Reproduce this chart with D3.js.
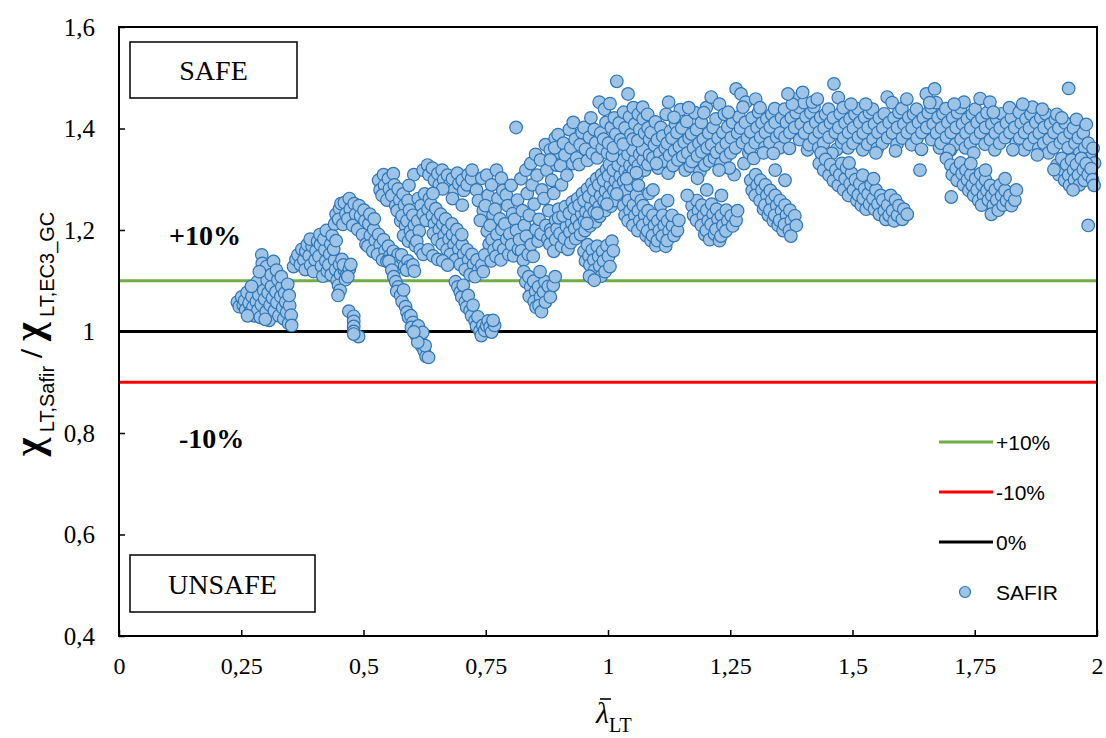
<!DOCTYPE html>
<html>
<head>
<meta charset="utf-8">
<script src="https://cdn.jsdelivr.net/npm/d3@7"></script>
<style>
  body { margin: 0; background: #ffffff; }
  svg { display: block; }
</style>
</head>
<body>
<svg id="chart" width="1106" height="738"></svg>
<script>
// ---- axis ticks ----
const xTicks = [0, 0.25, 0.5, 0.75, 1, 1.25, 1.5, 1.75, 2];
const yTicks = [0.4, 0.6, 0.8, 1.0, 1.2, 1.4, 1.6];

// ---- reference ratio lines ----
const limitNames = ["+10%", "-10%", "0%"];
const limitValues = [1.1, 0.9, 1.0];
const seriesName = "SAFIR";

// ---- SAFIR results: [lambda_LT, chi_Safir / chi_EC3_GC] ----
const safirLam025 = [
  [0.242,1.058],[0.246,1.049],[0.251,1.068],[0.254,1.052],[0.257,1.061],[0.262,1.077],[0.259,1.043],[0.266,1.056],
  [0.268,1.038],[0.272,1.069],[0.274,1.048],[0.277,1.031],[0.279,1.088],[0.281,1.059],[0.284,1.042],[0.286,1.072],
  [0.283,1.098],[0.289,1.028],[0.291,1.053],[0.292,1.151],[0.294,1.118],[0.296,1.081],[0.293,1.134],[0.298,1.064],
  [0.301,1.039],[0.303,1.101],[0.305,1.076],[0.302,1.128],[0.307,1.022],[0.309,1.052],[0.312,1.089],[0.314,1.066],
  [0.311,1.112],[0.316,1.138],[0.318,1.041],[0.321,1.078],[0.323,1.057],[0.325,1.102],[0.322,1.121],[0.327,1.031],
  [0.331,1.069],[0.333,1.088],[0.335,1.047],[0.332,1.108],[0.337,1.025],[0.339,1.076],[0.341,1.058],[0.343,1.038],
  [0.345,1.093],[0.347,1.016],[0.349,1.051],[0.352,1.032],[0.348,1.071],[0.353,1.012],[0.263,1.031],[0.271,1.089],
  [0.287,1.118],[0.299,1.024],
  [0.357,1.128],[0.362,1.142],[0.366,1.151],[0.371,1.132],[0.374,1.162],[0.378,1.141],[0.382,1.158],[0.385,1.171],
  [0.381,1.122],[0.389,1.149],[0.392,1.131],[0.395,1.168],[0.391,1.182],[0.401,1.141],[0.403,1.159],[0.398,1.118],
  [0.406,1.178],[0.409,1.148],[0.412,1.171],[0.414,1.129],[0.411,1.191],[0.417,1.109],[0.421,1.161],[0.423,1.139],
  [0.419,1.182],[0.426,1.119],[0.424,1.199],[0.431,1.152],[0.433,1.172],[0.429,1.131],[0.436,1.189],[0.434,1.112],
  [0.441,1.141],[0.443,1.122],[0.439,1.162],[0.446,1.101],[0.444,1.179],[0.451,1.132],[0.453,1.112],[0.449,1.091],
  [0.456,1.142],[0.461,1.121],[0.463,1.102],[0.459,1.131],[0.466,1.112],[0.471,1.123],[0.468,1.108],[0.474,1.132],
  [0.452,1.081],[0.448,1.071],
  [0.47,1.04],[0.48,1.03],[0.48,1.02],[0.48,1.01],[0.48,1.00],[0.49,0.99],[0.48,0.995]
];

const safirLam050 = [
  [0.441,1.212],[0.444,1.231],[0.451,1.242],[0.449,1.221],[0.454,1.252],[0.461,1.254],[0.464,1.232],[0.458,1.211],
  [0.471,1.262],[0.473,1.241],[0.468,1.222],[0.481,1.252],[0.484,1.231],[0.478,1.209],[0.491,1.248],[0.494,1.228],
  [0.488,1.201],[0.501,1.239],[0.503,1.218],[0.498,1.191],[0.505,1.172],[0.511,1.212],[0.514,1.189],[0.509,1.168],
  [0.513,1.231],[0.521,1.201],[0.524,1.179],[0.519,1.158],[0.522,1.222],[0.531,1.191],[0.534,1.171],[0.529,1.152],
  [0.541,1.181],[0.544,1.159],[0.539,1.141],[0.551,1.168],[0.554,1.149],[0.548,1.138],[0.561,1.158],[0.564,1.141],
  [0.558,1.129],[0.571,1.152],[0.574,1.138],[0.568,1.126],[0.581,1.142],[0.584,1.129],[0.578,1.151],[0.591,1.139],
  [0.594,1.128],[0.588,1.121],[0.601,1.131],[0.604,1.119],
  [0.552,1.138],[0.558,1.121],[0.562,1.108],[0.566,1.098],[0.571,1.088],[0.568,1.079],[0.576,1.071],[0.579,1.059],
  [0.582,1.082],[0.586,1.049],[0.589,1.038],[0.592,1.028],[0.597,1.031],[0.601,1.018],[0.598,1.008],[0.606,1.002],
  [0.609,0.991],[0.612,1.011],[0.616,0.981],[0.619,0.971],[0.614,0.992],[0.624,0.962],[0.628,0.951],[0.626,0.972],
  [0.633,0.949],[0.621,0.998],[0.611,0.979],[0.603,0.999],
  [0.531,1.298],[0.534,1.279],[0.541,1.309],[0.543,1.288],[0.538,1.268],[0.551,1.301],[0.553,1.281],[0.548,1.259],
  [0.561,1.311],[0.563,1.289],[0.558,1.268],[0.566,1.248],[0.571,1.281],[0.574,1.259],[0.569,1.238],[0.576,1.218],
  [0.581,1.271],[0.584,1.249],[0.579,1.228],[0.586,1.208],[0.582,1.189],[0.591,1.258],[0.594,1.239],[0.589,1.218],
  [0.596,1.198],[0.592,1.178],[0.601,1.229],[0.604,1.209],[0.599,1.188],[0.606,1.169],[0.611,1.218],[0.614,1.198],
  [0.609,1.178],[0.616,1.161],[0.603,1.309],[0.593,1.288]
];

const safirLam075 = [
  [0.622,1.318],[0.631,1.328],[0.634,1.309],[0.641,1.322],[0.645,1.298],[0.652,1.311],[0.655,1.289],[0.661,1.318],
  [0.664,1.299],[0.672,1.308],[0.675,1.288],[0.682,1.301],[0.686,1.279],[0.692,1.312],[0.695,1.291],[0.702,1.298],
  [0.705,1.278],[0.712,1.289],[0.714,1.309],[0.721,1.301],
  [0.612,1.262],[0.618,1.248],[0.622,1.231],[0.625,1.271],[0.632,1.241],[0.628,1.219],[0.635,1.262],[0.641,1.228],
  [0.645,1.212],[0.638,1.251],[0.643,1.193],[0.652,1.222],[0.655,1.201],[0.648,1.242],[0.651,1.181],[0.662,1.212],
  [0.665,1.189],[0.658,1.231],[0.661,1.172],[0.672,1.201],[0.675,1.182],[0.668,1.222],[0.671,1.161],[0.682,1.191],
  [0.685,1.171],[0.678,1.152],[0.681,1.212],[0.692,1.182],[0.695,1.162],[0.688,1.141],[0.691,1.201],[0.702,1.171],
  [0.705,1.152],[0.698,1.132],[0.701,1.191],[0.712,1.161],[0.715,1.141],[0.708,1.122],[0.722,1.152],[0.725,1.132],
  [0.718,1.112],[0.732,1.141],[0.735,1.121],[0.728,1.108],[0.742,1.131],[0.745,1.118],[0.622,1.152],[0.632,1.161],
  [0.642,1.149],[0.652,1.142],[0.662,1.139],[0.672,1.131],[0.662,1.281],[0.682,1.262],[0.702,1.249],[0.642,1.272],
  [0.688,1.098],[0.693,1.088],[0.698,1.078],[0.701,1.068],[0.704,1.091],[0.708,1.058],[0.711,1.048],[0.714,1.071],
  [0.718,1.041],[0.721,1.031],[0.724,1.052],[0.728,1.021],[0.731,1.011],[0.734,1.029],[0.738,1.001],[0.741,0.992],
  [0.744,1.012],[0.748,1.002],[0.752,1.011],[0.755,1.021],[0.759,1.009],[0.762,0.999],[0.768,1.012],[0.765,1.022],
  [0.722,1.318],[0.731,1.279],[0.735,1.258],[0.742,1.302],[0.745,1.238],[0.739,1.219],[0.752,1.308],[0.755,1.268],
  [0.749,1.248],[0.753,1.198],[0.757,1.172],[0.748,1.151],[0.762,1.289],[0.765,1.229],[0.759,1.209],[0.763,1.181],
  [0.767,1.161],[0.761,1.139],[0.772,1.318],[0.775,1.262],[0.769,1.241],[0.773,1.191],[0.777,1.169],[0.771,1.148],
  [0.782,1.302],[0.785,1.278],[0.779,1.222],[0.783,1.201],[0.787,1.162],[0.781,1.141],[0.792,1.269],[0.795,1.248],
  [0.789,1.212],[0.793,1.182],[0.797,1.152],[0.802,1.288],[0.805,1.232],[0.799,1.192],[0.803,1.171],[0.807,1.149],
  [0.812,1.402],[0.815,1.259],[0.809,1.221],[0.813,1.199],[0.817,1.162],[0.822,1.301],[0.825,1.238],[0.819,1.181],
  [0.823,1.159],[0.827,1.141],[0.832,1.318],[0.835,1.272],[0.829,1.209],[0.833,1.188],[0.837,1.152],[0.842,1.331],
  [0.845,1.289],[0.839,1.229],[0.843,1.171],[0.847,1.148],[0.852,1.349],[0.855,1.308],[0.849,1.251],[0.853,1.201],
  [0.857,1.178],[0.862,1.338],[0.865,1.279],[0.859,1.221],[0.863,1.192],[0.872,1.368],[0.875,1.318],[0.869,1.262],
  [0.873,1.209],[0.877,1.182],[0.882,1.358],[0.885,1.298],[0.879,1.238],[0.883,1.201],[0.892,1.381],[0.895,1.328],
  [0.889,1.272],[0.893,1.219],[0.902,1.352],[0.905,1.289],[0.899,1.241],[0.903,1.211],
  [0.828,1.118],[0.832,1.098],[0.838,1.108],[0.842,1.088],[0.839,1.069],[0.848,1.099],[0.852,1.079],[0.849,1.059],
  [0.853,1.048],[0.858,1.088],[0.862,1.068],[0.859,1.051],[0.864,1.039],[0.868,1.078],[0.872,1.058],[0.871,1.098],
  [0.878,1.089],[0.882,1.068],[0.888,1.091],[0.892,1.108],[0.861,1.118]
];

const safirLam100 = [
  [0.951,1.158],[0.954,1.139],[0.958,1.171],[0.961,1.149],[0.963,1.131],[0.968,1.161],[0.971,1.141],[0.973,1.121],
  [0.978,1.168],[0.981,1.148],[0.983,1.129],[0.986,1.109],[0.989,1.158],[0.991,1.139],[0.994,1.118],[0.998,1.169],
  [1.001,1.148],[1.004,1.128],[1.008,1.178],[1.011,1.159],[0.962,1.109],[0.972,1.101],
  [0.881,1.172],[0.884,1.194],[0.893,1.181],[0.896,1.203],[0.889,1.158],[0.902,1.193],[0.905,1.168],[0.899,1.224],
  [0.911,1.184],[0.915,1.207],[0.908,1.228],[0.913,1.246],[0.918,1.162],[0.922,1.196],[0.926,1.214],[0.921,1.233],
  [0.927,1.255],[0.924,1.175],[0.932,1.203],[0.936,1.221],[0.931,1.243],[0.938,1.262],[0.934,1.183],[0.942,1.209],
  [0.946,1.232],[0.941,1.249],[0.948,1.272],[0.944,1.191],[0.952,1.218],[0.955,1.236],[0.951,1.258],[0.958,1.281],
  [0.953,1.199],[0.962,1.228],[0.965,1.247],[0.961,1.266],[0.967,1.291],[0.963,1.208],[0.972,1.236],[0.975,1.258],
  [0.971,1.279],[0.977,1.301],[0.974,1.216],[0.982,1.246],[0.985,1.268],[0.981,1.289],[0.987,1.309],[0.983,1.227],
  [0.992,1.257],[0.995,1.277],[0.991,1.298],[0.994,1.238],[0.997,1.319],[1.002,1.266],[1.005,1.288],[1.001,1.307],
  [1.006,1.247],[1.003,1.329],[1.012,1.278],[1.015,1.297],[1.011,1.318],[1.014,1.258],[1.022,1.287],[1.025,1.306],
  [1.021,1.328],[1.026,1.268],[1.023,1.347],[1.032,1.296],[1.035,1.317],[1.031,1.338],[1.036,1.279],[1.042,1.308],
  [1.045,1.327],[1.041,1.349],[1.046,1.288],[1.052,1.317],[1.055,1.338],[1.051,1.358],[1.056,1.299],[1.062,1.327],
  [1.065,1.349],[1.061,1.309],[1.072,1.338],[1.075,1.318],[1.071,1.359],[1.082,1.329],[1.085,1.348],[0.957,1.213],
  [0.978,1.233],[0.998,1.251],[1.018,1.271],[1.038,1.301],[1.058,1.313],
  [0.882,1.338],[0.891,1.362],[0.898,1.388],[0.903,1.327],[0.909,1.371],[0.912,1.348],[0.916,1.308],[0.921,1.398],
  [0.924,1.362],[0.928,1.331],[0.933,1.379],[0.936,1.342],[0.929,1.412],[0.943,1.368],[0.947,1.392],[0.941,1.329],
  [0.951,1.402],[0.954,1.359],[0.958,1.337],[0.962,1.383],[0.965,1.421],[0.968,1.351],[0.972,1.398],[0.975,1.372],
  [0.978,1.342],[0.982,1.452],[0.985,1.391],[0.988,1.361],[0.993,1.438],[0.996,1.412],[0.991,1.379],[0.999,1.352],
  [1.004,1.449],[1.007,1.402],[1.001,1.371],[1.009,1.347],[1.013,1.421],[1.016,1.389],[1.011,1.362],[1.018,1.493],
  [1.023,1.411],[1.026,1.378],[1.032,1.432],[1.035,1.401],[1.031,1.369],[1.041,1.468],[1.044,1.423],[1.047,1.388],
  [1.052,1.441],[1.055,1.409],[1.051,1.379],[1.062,1.428],[1.065,1.398],[1.061,1.376],[1.072,1.419],[1.075,1.391],
  [1.071,1.442],[1.082,1.401],[1.085,1.379],[1.081,1.428],
  [1.032,1.248],[1.035,1.229],[1.042,1.258],[1.045,1.238],[1.041,1.218],[1.052,1.249],[1.055,1.228],[1.051,1.209],
  [1.058,1.269],[1.062,1.238],[1.065,1.218],[1.061,1.199],[1.068,1.258],[1.072,1.248],[1.075,1.229],[1.071,1.209],
  [1.078,1.189],[1.082,1.238],[1.085,1.218],[1.081,1.198],[1.088,1.179],[1.084,1.272],[1.092,1.229],[1.095,1.209],
  [1.091,1.189],[1.098,1.169],[1.102,1.218],[1.105,1.199],[1.101,1.179],[1.108,1.249],[1.112,1.229],[1.115,1.209],
  [1.111,1.188],[1.118,1.168],[1.122,1.218],[1.125,1.198],[1.121,1.179],[1.132,1.208],[1.135,1.189],[1.131,1.229],
  [1.142,1.199],[1.145,1.219],[1.062,1.288],[1.092,1.279],[1.122,1.258]
];

const safirLam125 = [
  [1.092,1.342],[1.095,1.367],[1.088,1.392],[1.097,1.413],[1.103,1.322],[1.106,1.351],[1.101,1.378],[1.108,1.402],
  [1.114,1.336],[1.117,1.362],[1.112,1.385],[1.119,1.428],[1.123,1.312],[1.126,1.347],[1.121,1.371],[1.128,1.395],
  [1.124,1.452],[1.133,1.327],[1.136,1.356],[1.131,1.381],[1.138,1.409],[1.143,1.338],[1.146,1.364],[1.141,1.392],
  [1.148,1.437],[1.153,1.345],[1.156,1.373],[1.151,1.401],[1.158,1.318],[1.163,1.352],[1.166,1.381],[1.161,1.414],
  [1.168,1.326],[1.172,1.335],[1.175,1.362],[1.171,1.389],[1.178,1.431],[1.183,1.346],[1.186,1.371],[1.181,1.398],
  [1.188,1.315],[1.192,1.354],[1.195,1.379],[1.191,1.412],[1.198,1.328],[1.203,1.362],[1.206,1.391],[1.201,1.441],
  [1.208,1.336],[1.212,1.368],[1.215,1.402],[1.211,1.462],[1.218,1.342],[1.222,1.353],[1.225,1.381],[1.221,1.419],
  [1.228,1.448],[1.232,1.362],[1.235,1.392],[1.231,1.331],[1.238,1.428],[1.242,1.371],[1.245,1.403],[1.241,1.344],
  [1.252,1.382],[1.255,1.412],[1.251,1.352],[1.258,1.309],[1.262,1.478],[1.265,1.391],[1.261,1.362],[1.268,1.423],
  [1.272,1.468],[1.275,1.372],[1.271,1.401],[1.278,1.331],[1.282,1.452],[1.285,1.381],[1.281,1.412],[1.288,1.352],
  [1.292,1.393],[1.295,1.421],[1.291,1.361],[1.302,1.458],[1.305,1.402],[1.301,1.372],[1.308,1.432],[1.312,1.383],
  [1.315,1.411],[1.311,1.441],[1.322,1.392],[1.325,1.419],[1.321,1.363],[1.332,1.403],[1.335,1.428],[1.331,1.372],
  [1.342,1.412],[1.345,1.383],[1.341,1.439],[1.352,1.391],[1.355,1.421],[1.351,1.362],
  [1.099,1.331],[1.135,1.422],[1.165,1.441],[1.196,1.431],[1.246,1.432],[1.276,1.442],[1.298,1.341],[1.318,1.352],
  [1.338,1.351],[1.248,1.322],[1.227,1.318],[1.183,1.302],
  [1.172,1.248],[1.175,1.229],[1.182,1.258],[1.185,1.238],[1.181,1.219],[1.192,1.249],[1.195,1.228],[1.191,1.209],
  [1.198,1.191],[1.202,1.239],[1.205,1.218],[1.201,1.199],[1.208,1.181],[1.212,1.251],[1.215,1.231],[1.211,1.211],
  [1.218,1.192],[1.222,1.241],[1.225,1.221],[1.221,1.201],[1.228,1.179],[1.232,1.229],[1.235,1.209],[1.231,1.188],
  [1.242,1.239],[1.245,1.218],[1.241,1.198],[1.252,1.228],[1.255,1.208],[1.262,1.219],[1.265,1.238],[1.232,1.268],
  [1.202,1.279],[1.162,1.268],
  [1.292,1.298],[1.295,1.278],[1.302,1.309],[1.305,1.288],[1.301,1.268],[1.312,1.298],[1.315,1.279],[1.311,1.258],
  [1.318,1.241],[1.322,1.289],[1.325,1.268],[1.321,1.249],[1.328,1.229],[1.332,1.278],[1.335,1.259],[1.331,1.239],
  [1.338,1.218],[1.342,1.268],[1.345,1.248],[1.341,1.229],[1.348,1.209],[1.352,1.258],[1.355,1.238],[1.351,1.219],
  [1.358,1.199],[1.362,1.249],[1.365,1.229],[1.361,1.211],[1.372,1.239],[1.375,1.218],[1.371,1.199],[1.382,1.228],
  [1.385,1.209],[1.374,1.188],[1.342,1.318],[1.362,1.298]
];

const safirLam150 = [
  [1.362,1.383],[1.365,1.412],[1.361,1.438],[1.372,1.392],[1.375,1.421],[1.371,1.361],[1.382,1.402],[1.385,1.431],
  [1.381,1.458],[1.392,1.378],[1.395,1.409],[1.391,1.442],[1.402,1.391],[1.405,1.423],[1.401,1.451],[1.408,1.358],
  [1.412,1.402],[1.415,1.431],[1.411,1.368],[1.422,1.381],[1.425,1.412],[1.421,1.443],[1.432,1.393],[1.435,1.422],
  [1.431,1.362],[1.442,1.401],[1.445,1.428],[1.441,1.371],[1.452,1.383],[1.455,1.411],[1.451,1.438],[1.462,1.488],
  [1.465,1.392],[1.461,1.421],[1.468,1.359],[1.472,1.402],[1.475,1.429],[1.471,1.461],[1.478,1.372],[1.482,1.381],
  [1.485,1.411],[1.481,1.441],[1.492,1.392],[1.495,1.419],[1.491,1.362],[1.502,1.401],[1.505,1.428],[1.501,1.371],
  [1.512,1.383],[1.515,1.412],[1.511,1.439],[1.522,1.391],[1.525,1.422],[1.521,1.358],[1.532,1.402],[1.535,1.431],
  [1.531,1.369],[1.542,1.379],[1.545,1.409],[1.541,1.438],[1.552,1.392],[1.555,1.421],[1.551,1.361],[1.562,1.401],
  [1.565,1.429],[1.561,1.371],[1.572,1.382],[1.575,1.412],[1.571,1.462],[1.582,1.391],[1.585,1.421],[1.581,1.451],
  [1.592,1.402],[1.595,1.432],[1.591,1.369],[1.602,1.381],[1.605,1.409],[1.601,1.439],[1.612,1.392],[1.615,1.422],
  [1.611,1.458],[1.622,1.401],[1.625,1.428],[1.621,1.368],
  [1.377,1.448],[1.418,1.452],[1.437,1.349],[1.458,1.351],[1.497,1.448],[1.527,1.448],[1.548,1.352],[1.588,1.356],
  [1.368,1.468],[1.398,1.471],[1.428,1.458],
  [1.432,1.331],[1.436,1.352],[1.441,1.318],[1.445,1.339],[1.452,1.308],[1.455,1.329],[1.461,1.297],[1.466,1.318],
  [1.471,1.288],[1.474,1.309],[1.478,1.331],[1.482,1.279],[1.485,1.301],[1.488,1.322],[1.492,1.268],[1.495,1.291],
  [1.498,1.312],[1.502,1.279],[1.506,1.299],[1.509,1.258],[1.512,1.269],[1.515,1.291],[1.518,1.249],[1.522,1.262],
  [1.525,1.281],[1.528,1.241],[1.532,1.271],[1.535,1.251],[1.538,1.289],[1.542,1.262],[1.545,1.241],[1.548,1.279],
  [1.552,1.251],[1.555,1.231],[1.558,1.268],[1.562,1.259],[1.565,1.238],[1.568,1.221],[1.572,1.249],[1.575,1.229],
  [1.578,1.268],[1.582,1.238],[1.585,1.218],[1.588,1.259],[1.592,1.229],[1.595,1.248],[1.602,1.221],[1.605,1.241],
  [1.612,1.231],[1.493,1.332],[1.521,1.308],[1.543,1.301]
];

const safirLam175 = [
  [1.632,1.381],[1.635,1.412],[1.631,1.438],[1.642,1.392],[1.645,1.421],[1.641,1.359],[1.638,1.318],[1.652,1.402],
  [1.655,1.431],[1.651,1.468],[1.662,1.378],[1.665,1.409],[1.661,1.442],[1.668,1.478],[1.672,1.391],[1.675,1.422],
  [1.671,1.451],[1.678,1.362],[1.682,1.401],[1.685,1.429],[1.681,1.371],[1.692,1.383],[1.695,1.412],[1.691,1.439],
  [1.702,1.392],[1.705,1.421],[1.701,1.358],[1.712,1.402],[1.715,1.431],[1.711,1.369],[1.722,1.379],[1.725,1.409],
  [1.721,1.441],[1.732,1.391],[1.735,1.419],[1.731,1.362],[1.742,1.401],[1.745,1.428],[1.741,1.371],[1.752,1.381],
  [1.755,1.412],[1.751,1.438],[1.762,1.392],[1.765,1.421],[1.761,1.459],[1.772,1.402],[1.775,1.431],[1.771,1.369],
  [1.782,1.378],[1.785,1.409],[1.781,1.452],[1.792,1.391],[1.795,1.419],[1.791,1.358],[1.802,1.401],[1.805,1.429],
  [1.801,1.371],[1.812,1.382],[1.815,1.411],[1.822,1.392],[1.825,1.421],[1.821,1.441],[1.832,1.402],[1.835,1.372],
  [1.842,1.381],[1.845,1.411],[1.841,1.432],[1.852,1.392],[1.855,1.419],[1.851,1.358],[1.862,1.401],[1.865,1.428],
  [1.861,1.369],[1.872,1.382],[1.875,1.412],[1.882,1.391],[1.885,1.421],[1.881,1.361],[1.892,1.402],[1.895,1.429],
  [1.891,1.371],[1.902,1.379],[1.905,1.409],[1.901,1.352],[1.912,1.392],[1.915,1.418],[1.911,1.362],[1.922,1.401],
  [1.925,1.372],[1.932,1.381],[1.935,1.411],[1.942,1.479],[1.945,1.392],[1.941,1.362],[1.952,1.401],[1.955,1.371],
  [1.962,1.382],[1.965,1.352],[1.972,1.391],[1.975,1.362],[1.982,1.371],[1.985,1.342],[1.992,1.361],[1.995,1.332],
  [1.828,1.358],[1.868,1.442],[1.848,1.448],[1.888,1.438],[1.918,1.428],[1.958,1.418],[1.978,1.408],[1.728,1.452],
  [1.708,1.448],[1.658,1.451],[1.698,1.357],[1.748,1.352],[1.788,1.432],[1.878,1.348],[1.928,1.421],[1.702,1.265],
  [1.692,1.341],[1.701,1.328],[1.704,1.309],[1.712,1.321],[1.714,1.298],[1.721,1.332],[1.724,1.311],[1.727,1.289],
  [1.732,1.318],[1.735,1.299],[1.738,1.278],[1.742,1.309],[1.745,1.288],[1.748,1.268],[1.752,1.301],[1.755,1.279],
  [1.758,1.258],[1.762,1.311],[1.765,1.289],[1.768,1.268],[1.764,1.249],[1.772,1.299],[1.775,1.278],[1.778,1.259],
  [1.782,1.288],[1.785,1.268],[1.788,1.248],[1.784,1.231],[1.792,1.279],[1.795,1.259],[1.798,1.239],[1.802,1.289],
  [1.805,1.268],[1.808,1.249],[1.812,1.278],[1.815,1.258],[1.822,1.268],[1.825,1.248],[1.832,1.259],[1.835,1.279],
  [1.742,1.331],[1.772,1.318],[1.812,1.301],
  [1.918,1.328],[1.922,1.309],[1.928,1.341],[1.931,1.318],[1.934,1.298],[1.938,1.329],[1.942,1.308],[1.944,1.288],
  [1.948,1.338],[1.952,1.318],[1.954,1.299],[1.958,1.329],[1.962,1.308],[1.964,1.289],[1.968,1.341],[1.972,1.319],
  [1.974,1.298],[1.978,1.331],[1.982,1.309],[1.988,1.321],[1.991,1.299],[1.982,1.209],[1.994,1.288],[1.912,1.319],
  [1.951,1.279]
];

const safirPoints = [].concat(
  safirLam025, safirLam050, safirLam075, safirLam100, safirLam125, safirLam150, safirLam175
);

// ---- layout & style ----
const svg = d3.select("#chart");
const plot = { left: 119, right: 1097, top: 27, bottom: 636 };
const limitColors = ["#70AD47", "#FF0000", "#000000"];
const markerFill = "#9DC3E6";
const markerStroke = "#2E75B6";
const serif = "'Liberation Serif', 'Times New Roman', serif";
const sans = "'Liberation Sans', Arial, sans-serif";

const x = d3.scaleLinear().domain([0, 2]).range([plot.left, plot.right]);
const y = d3.scaleLinear().domain([0.4, 1.6]).range([plot.bottom, plot.top]);

const commaFmt = v => String(+v.toFixed(2)).replace(".", ",");

// x axis (ticks pointing into the plot)
const gx = svg.append("g")
  .attr("transform", `translate(0,${plot.bottom})`)
  .call(d3.axisBottom(x).tickValues(xTicks).tickFormat(commaFmt).tickSize(-6).tickPadding(21));
gx.select(".domain").remove();
gx.selectAll(".tick line").attr("stroke", "#000").attr("stroke-width", 1.5);
gx.selectAll(".tick text").attr("font-family", serif).attr("font-size", 24).attr("fill", "#000");

// y axis
const gy = svg.append("g")
  .attr("transform", `translate(${plot.left},0)`)
  .call(d3.axisLeft(y).tickValues(yTicks).tickFormat(commaFmt).tickSize(-6).tickPadding(24));
gy.select(".domain").remove();
gy.selectAll(".tick line").attr("stroke", "#000").attr("stroke-width", 1.5);
gy.selectAll(".tick text").attr("font-family", serif).attr("font-size", 25).attr("fill", "#000");

// ratio reference lines
svg.append("g").selectAll("line")
  .data(limitValues)
  .join("line")
  .attr("x1", x(0)).attr("x2", x(2))
  .attr("y1", d => y(d)).attr("y2", d => y(d))
  .attr("stroke", (d, i) => limitColors[i])
  .attr("stroke-width", 3);

// SAFIR scatter
svg.append("g").selectAll("circle")
  .data(safirPoints)
  .join("circle")
  .attr("cx", d => x(d[0]))
  .attr("cy", d => y(d[1]))
  .attr("r", 6.3)
  .attr("fill", markerFill)
  .attr("stroke", markerStroke)
  .attr("stroke-width", 1.2);

// plot frame
svg.append("rect")
  .attr("x", plot.left).attr("y", plot.top)
  .attr("width", plot.right - plot.left).attr("height", plot.bottom - plot.top)
  .attr("fill", "none").attr("stroke", "#000").attr("stroke-width", 2);

// SAFE / UNSAFE boxes
const boxes = [
  { label: "SAFE", x: 130, y: 42, w: 167, h: 56 },
  { label: "UNSAFE", x: 130, y: 555, w: 185, h: 57 }
];
boxes.forEach(b => {
  svg.append("rect").attr("x", b.x).attr("y", b.y).attr("width", b.w).attr("height", b.h)
    .attr("fill", "#fff").attr("stroke", "#000").attr("stroke-width", 1.5);
  svg.append("text").attr("x", b.x + b.w / 2).attr("y", b.y + b.h / 2 + 10)
    .attr("text-anchor", "middle").attr("font-family", serif).attr("font-size", 28)
    .attr("fill", "#000").text(b.label);
});

// +10% / -10% annotations
svg.append("text").attr("x", 169).attr("y", 245).attr("font-family", serif)
  .attr("font-size", 28).attr("font-weight", "bold").text(limitNames[0]);
svg.append("text").attr("x", 179).attr("y", 448).attr("font-family", serif)
  .attr("font-size", 28).attr("font-weight", "bold").text(limitNames[1]);

// legend
const legend = svg.append("g");
const legendY = [442, 492, 542, 592];
limitNames.forEach((name, i) => {
  legend.append("line").attr("x1", 939).attr("x2", 993)
    .attr("y1", legendY[i]).attr("y2", legendY[i])
    .attr("stroke", limitColors[i]).attr("stroke-width", 3);
  legend.append("text").attr("x", 996).attr("y", legendY[i] + 8)
    .attr("font-family", sans).attr("font-size", 21).attr("fill", "#000").text(name);
});
legend.append("circle").attr("cx", 965).attr("cy", legendY[3]).attr("r", 5.5)
  .attr("fill", markerFill).attr("stroke", markerStroke).attr("stroke-width", 1.2);
legend.append("text").attr("x", 996).attr("y", legendY[3] + 8)
  .attr("font-family", sans).attr("font-size", 21).attr("fill", "#000").text(seriesName);

// y axis title: chi_LT,Safir / chi_LT,EC3_GC
const yt = svg.append("text")
  .attr("transform", "translate(42,334) rotate(-90)")
  .attr("text-anchor", "middle").attr("fill", "#000");
yt.append("tspan").attr("font-family", serif).attr("font-weight", "bold").attr("font-size", 40).text("χ");
yt.append("tspan").attr("font-family", sans).attr("font-size", 20).attr("dy", 12).text(" LT,Safir");
yt.append("tspan").attr("font-family", serif).attr("font-weight", "bold").attr("font-size", 32).attr("dy", -12).text(" / ");
yt.append("tspan").attr("font-family", serif).attr("font-weight", "bold").attr("font-size", 40).text("χ");
yt.append("tspan").attr("font-family", sans).attr("font-size", 20).attr("dy", 12).text(" LT,EC3_GC");

// x axis title: lambda-bar_LT
const xt = svg.append("text").attr("x", 596).attr("y", 723).attr("fill", "#000");
xt.append("tspan").attr("font-family", serif).attr("font-style", "italic").attr("font-size", 30).text("λ");
xt.append("tspan").attr("font-family", serif).attr("font-size", 20).attr("dy", 9).text("LT");
svg.append("line").attr("x1", 600).attr("x2", 611).attr("y1", 699).attr("y2", 699)
  .attr("stroke", "#000").attr("stroke-width", 1.6);
</script>
</body>
</html>
